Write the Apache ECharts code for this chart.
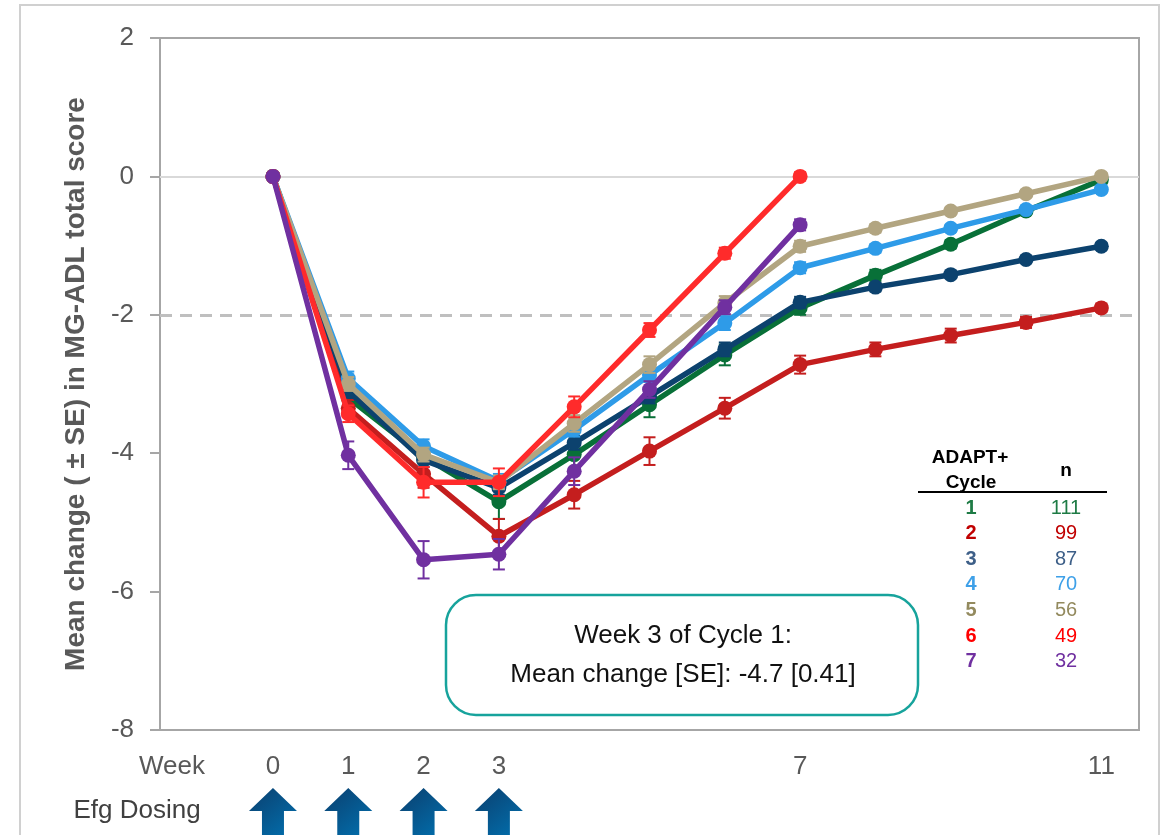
<!DOCTYPE html>
<html>
<head>
<meta charset="utf-8">
<script src="https://cdn.jsdelivr.net/npm/echarts@6/dist/echarts.min.js"></script>
<style>html,body{margin:0;padding:0;background:#fff}#c{width:1168px;height:835px}</style>
</head>
<body>
<div id="c"></div>
<script>
// ---- data ----
const weeks = [0,1,2,3,4,5,6,7,8,9,10,11];
const weekLabels = [0,1,2,3,7,11];
const dosingWeeks = [0,1,2,3];
const cycleNames = ['1','2','3','4','5','6','7'];
const cycleN = [111,99,87,70,56,49,32];
const c1 = [0,-3.2,-4.05,-4.7,-4.02,-3.3,-2.58,-1.9,-1.43,-0.98,-0.5,-0.05];
const c2 = [0,-3.35,-4.3,-5.2,-4.6,-3.97,-3.35,-2.72,-2.5,-2.3,-2.11,-1.9];
const c3 = [0,-3.1,-4.1,-4.5,-3.85,-3.18,-2.5,-1.82,-1.6,-1.42,-1.2,-1.01];
const c4 = [0,-2.92,-3.9,-4.4,-3.66,-2.87,-2.12,-1.32,-1.04,-0.75,-0.48,-0.19];
const c5 = [0,-3.0,-4.02,-4.42,-3.57,-2.72,-1.83,-1.01,-0.75,-0.5,-0.25,0];
const c6 = [0,-3.43,-4.42,-4.42,-3.33,-2.22,-1.11,0];
const c7 = [0,-4.03,-5.54,-5.46,-4.26,-3.08,-1.89,-0.7];
const se1 = [0,0.1,0.1,0.25,0.2,0.18,0.15,0.1,0.08,0.06,0.05,0.05];
const se2 = [0,0.12,0.2,0.25,0.2,0.2,0.15,0.13,0.1,0.1,0.08,0.06];
const se3 = [0,0.1,0.1,0.1,0.1,0.1,0.1,0.08,0.06,0.05,0.05,0.05];
const se4 = [0,0.1,0.1,0.1,0.1,0.1,0.1,0.08,0.06,0.05,0.05,0.05];
const se5 = [0,0.1,0.1,0.1,0.12,0.12,0.1,0.08,0.06,0.05,0.05,0.05];
const se6 = [0,0.12,0.22,0.2,0.15,0.1,0.08,0.06];
const se7 = [0,0.2,0.27,0.22,0.2,0.12,0.1,0.08];
const refLines = [0,-2];

// ---- styling ----
const lineColors = ['#087038','#c41e1e','#0c426e','#2e9be8','#b2a581','#ff2b2b','#7030a0'];
const tableColors = ['#1e7b45','#c00000','#3d5f88','#3ea0e8','#938a5e','#ff0000','#7030a0'];
const means = [c1,c2,c3,c4,c5,c6,c7];
const ses = [se1,se2,se3,se4,se5,se6,se7];
const FONT = '"Liberation Sans", Arial, sans-serif';

const series = [];
means.forEach((m, i) => {
  const pts = m.map((v, k) => [weeks[k], v]);
  series.push({
    type: 'line', name: 'Cycle ' + cycleNames[i], data: pts,
    lineStyle: {color: lineColors[i], width: 5.5},
    itemStyle: {color: lineColors[i]},
    symbol: 'circle', symbolSize: 15, z: 3 + i, silent: true,
    markLine: i === 0 ? {
      silent: true, symbol: 'none', label: {show: false},
      data: [
        {yAxis: refLines[0], lineStyle: {color: '#d9d9d9', width: 2, type: 'solid'}},
        {yAxis: refLines[1], lineStyle: {color: '#bfbfbf', width: 3, type: [12, 8]}}
      ],
      z: 1
    } : undefined
  });
  const eb = m.map((v, k) => [weeks[k], v - ses[i][k], v + ses[i][k]]).filter((d, k) => ses[i][k] > 0);
  series.push({
    type: 'custom', data: eb, z: 3 + i, silent: true,
    encode: {x: 0, y: [1, 2]},
    renderItem: function (params, api) {
      const x = api.value(0);
      const lo = api.coord([x, api.value(1)]);
      const hi = api.coord([x, api.value(2)]);
      const hw = 6;
      const st = {stroke: lineColors[i], lineWidth: 2};
      return {type: 'group', children: [
        {type: 'line', shape: {x1: lo[0], y1: lo[1], x2: hi[0], y2: hi[1]}, style: st},
        {type: 'line', shape: {x1: lo[0]-hw, y1: lo[1], x2: lo[0]+hw, y2: lo[1]}, style: st},
        {type: 'line', shape: {x1: hi[0]-hw, y1: hi[1], x2: hi[0]+hw, y2: hi[1]}, style: st}
      ]};
    }
  });
});

// dosing arrows placed through x scale
series.push({
  type: 'custom', data: dosingWeeks.map(w => [w, -8]), clip: false, silent: true, z: 20,
  renderItem: function (params, api) {
    const p = api.coord([api.value(0), api.value(1)]);
    const x = p[0], top = p[1] + 58;
    return {
      type: 'polygon',
      shape: {points: [[x, top], [x + 24, top + 23], [x + 11, top + 23], [x + 11, top + 60], [x - 11, top + 60], [x - 11, top + 23], [x - 24, top + 23]]},
      style: {fill: new echarts.graphic.LinearGradient(0, 0, 1, 1, [{offset: 0, color: '#0b3f6e'}, {offset: 1, color: '#0077b8'}])}
    };
  }
});

const graphic = [
  {type: 'rect', shape: {x: 20, y: 5, width: 1139, height: 840}, style: {fill: 'none', stroke: '#d0d0d0', lineWidth: 2}, z: -1, silent: true},
  {type: 'text', x: 172, y: 767, style: {text: 'Week', font: '26px ' + FONT, fill: '#595959', align: 'center', verticalAlign: 'middle'}},
  {type: 'text', x: 137, y: 811, style: {text: 'Efg Dosing', font: '26px ' + FONT, fill: '#404040', align: 'center', verticalAlign: 'middle'}},
  {type: 'rect', shape: {x: 446, y: 595, width: 472, height: 120, r: 30}, style: {fill: '#fff', stroke: '#17a39c', lineWidth: 2.5}, z: 50},
  {type: 'text', x: 683, y: 636, z: 51, style: {text: 'Week 3 of Cycle 1:', font: '26px ' + FONT, fill: '#111', align: 'center', verticalAlign: 'middle'}},
  {type: 'text', x: 683, y: 675, z: 51, style: {text: 'Mean change [SE]: -4.7 [0.41]', font: '26px ' + FONT, fill: '#111', align: 'center', verticalAlign: 'middle'}},
  {type: 'text', x: 970, y: 458, z: 51, style: {text: 'ADAPT+', font: 'bold 19px ' + FONT, fill: '#000', align: 'center', verticalAlign: 'middle'}},
  {type: 'text', x: 971, y: 483, z: 51, style: {text: 'Cycle', font: 'bold 19px ' + FONT, fill: '#000', align: 'center', verticalAlign: 'middle'}},
  {type: 'text', x: 1066, y: 471, z: 51, style: {text: 'n', font: 'bold 19px ' + FONT, fill: '#000', align: 'center', verticalAlign: 'middle'}},
  {type: 'line', shape: {x1: 918, y1: 492, x2: 1107, y2: 492}, style: {stroke: '#000', lineWidth: 2}, z: 51}
];
cycleNames.forEach((c, i) => {
  const y = 508 + i * 25.6;
  graphic.push({type: 'text', x: 971, y: y, z: 51, style: {text: c, font: 'bold 20px ' + FONT, fill: tableColors[i], align: 'center', verticalAlign: 'middle'}});
  graphic.push({type: 'text', x: 1066, y: y, z: 51, style: {text: String(cycleN[i]), font: '20px ' + FONT, fill: tableColors[i], align: 'center', verticalAlign: 'middle'}});
});

const chart = echarts.init(document.getElementById('c'), null, {renderer: 'canvas'});
chart.setOption({
  animation: false,
  backgroundColor: '#fff',
  grid: {left: 160, right: 29, top: 38, bottom: 105, show: true, borderColor: '#a6a6a6', borderWidth: 2, backgroundColor: 'transparent'},
  xAxis: {
    type: 'value', min: -1.5, max: 11.5,
    axisLine: {show: false}, axisTick: {show: false}, splitLine: {show: false},
    axisLabel: {customValues: weekLabels, fontSize: 26, color: '#595959', fontFamily: FONT, margin: 24}
  },
  yAxis: {
    type: 'value', min: -8, max: 2, interval: 2,
    name: 'Mean change ( \u00b1 SE) in MG-ADL total score',
    nameLocation: 'middle', nameRotate: 90, nameGap: 70,
    nameTextStyle: {fontSize: 28, fontWeight: 'bold', color: '#595959', fontFamily: FONT},
    axisLine: {show: true, onZero: false, lineStyle: {color: '#a6a6a6', width: 2}},
    axisTick: {show: true, inside: false, length: 10, lineStyle: {color: '#a6a6a6', width: 2}},
    splitLine: {show: false},
    axisLabel: {fontSize: 26, color: '#595959', fontFamily: FONT, margin: 26}
  },
  series: series,
  graphic: graphic
});
</script>
</body>
</html>
